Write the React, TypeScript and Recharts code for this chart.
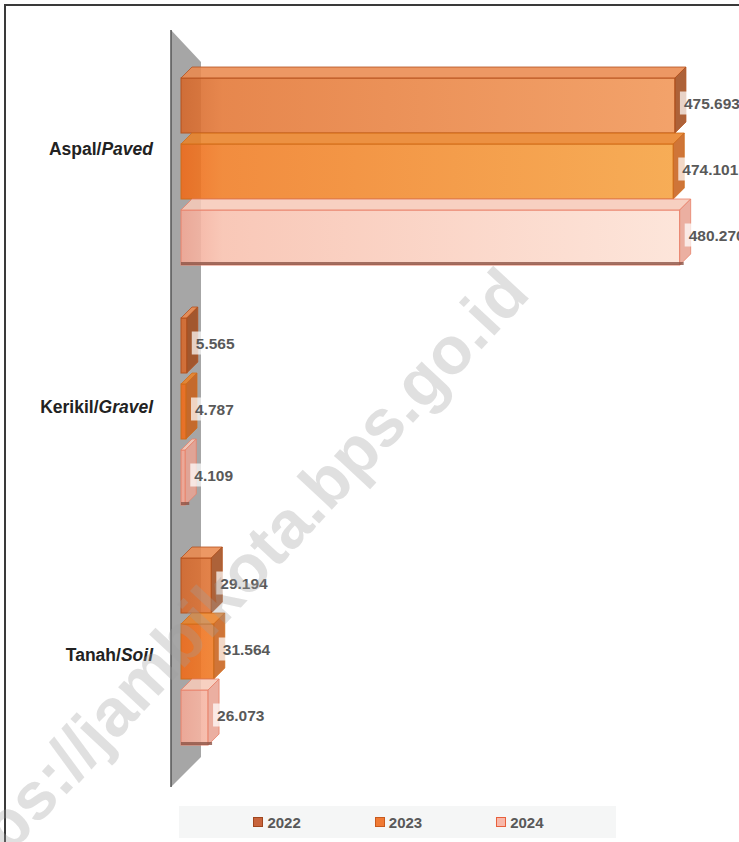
import { BarChart, Bar, XAxis, YAxis, Legend } from "recharts";

const categories = ["Aspal", "Kerikil", "Tanah"];
const categoriesEn = ["Paved", "Gravel", "Soil"];
const years = ["2022", "2023", "2024"];
const values2022 = [475.693, 5.565, 29.194];
const values2023 = [474.101, 4.787, 31.564];
const values2024 = [480.27, 4.109, 26.073];

const data = categories.map((name, i) => ({
  name,
  en: categoriesEn[i],
  y2022: values2022[i],
  y2023: values2023[i],
  y2024: values2024[i],
}));

const palettes = [
  { deep: "#D4682C", from: "#E47A3A", to: "#F29A5C", top: "#EA8A4E", side: "#A24C1E", stroke: "#B4521E", legend: "#C8643C", legendBorder: "#A0461E" },
  { deep: "#EE6A1A", from: "#F0802A", to: "#F6A646", top: "#E98228", side: "#C8621C", stroke: "#D06C1A", legend: "#F07A34", legendBorder: "#C85A1E" },
  { deep: "#F2A896", from: "#F8C2B0", to: "#FDE4D8", top: "#F6C9B8", side: "#E8A494", stroke: "#E9826A", legend: "#F8B8AA", legendBorder: "#E8603C" },
];

const labelShift = [-17, 1, 9];
const DX = 11;
const DY = 11;

const fmt = (v: number) => v.toFixed(3);
const textW = (s: string) => s.split("").reduce((w, c) => w + (c === "." ? 4.4 : 8.7), 0);

function Box3D(props: any) {
  const { x, y, width, height, idx, valueKey, payload } = props;
  const p = palettes[idx];
  const w = Math.max(width, 0);
  const x1 = x + w;
  const label = fmt(payload[valueKey]);
  const tw = textW(label);
  const bx = x1 + 5;
  const cy = y + height / 2 + 3;
  return (
    <g>
      <rect x={x} y={y + DY} width={w} height={height - DY} fill={`url(#grad${idx})`} fillOpacity={0.9} stroke={p.stroke} strokeWidth={1} />
      <polygon
        points={`${x},${y + DY} ${x + DX},${y} ${x1 + DX},${y} ${x1},${y + DY}`}
        fill={p.top}
        fillOpacity={0.88}
        stroke={p.stroke}
        strokeWidth={0.8}
      />
      <polygon
        points={`${x1},${y + DY} ${x1 + DX},${y} ${x1 + DX},${y + height - DY} ${x1},${y + height}`}
        fill={p.side}
        fillOpacity={0.88}
        stroke={p.stroke}
        strokeWidth={0.8}
      />
      {idx === 2 && <rect x={x} y={y + height - 3} width={w + 4} height={3} fill="#8C5446" opacity={0.8} />}
      <rect x={bx} y={cy - 11.5} width={tw + 8} height={23} fill="#FFFFFF" fillOpacity={0.72} />
      <text x={bx + 4} y={cy} dominantBaseline="central" fontSize={15.5} fontWeight="bold" fill="#595959" fontFamily="Liberation Sans, Arial, sans-serif">
        {label}
      </text>
    </g>
  );
}

function CategoryTick(props: any) {
  const { x, y, index, payload } = props;
  const en = categoriesEn[categories.indexOf(payload.value)];
  return (
    <text
      x={x}
      y={y + labelShift[index]}
      textAnchor="end"
      dominantBaseline="central"
      fontSize={17.5}
      fontWeight="bold"
      fill="#222222"
      fontFamily="Liberation Sans, Arial, sans-serif"
    >
      <tspan>{payload.value}/</tspan>
      <tspan fontStyle="italic">{en}</tspan>
    </text>
  );
}

function LegendBox() {
  return (
    <div
      style={{
        width: 437,
        height: 32,
        background: "#F5F6F6",
        display: "flex",
        alignItems: "center",
        justifyContent: "center",
        gap: 74,
        fontFamily: "Liberation Sans, Arial, sans-serif",
        fontWeight: "bold",
        fontSize: 15,
        color: "#595959",
        boxSizing: "border-box",
        paddingLeft: 2,
      }}
    >
      {years.map((yr, i) => (
        <div key={yr} style={{ display: "flex", alignItems: "center", gap: 4 }}>
          <span
            style={{
              display: "inline-block",
              width: 8,
              height: 8,
              background: palettes[i].legend,
              border: `1px solid ${palettes[i].legendBorder}`,
            }}
          />
          <span>{yr}</span>
        </div>
      ))}
    </div>
  );
}

export default function App() {
  return (
    <div
      style={{
        position: "fixed",
        left: 0,
        top: 0,
        width: 739,
        height: 842,
        overflow: "hidden",
        background: "#FFFFFF",
      }}
    >
      {/* frame */}
      <div
        style={{
          position: "absolute",
          left: 4,
          top: 4,
          width: 760,
          height: 860,
          border: "2px solid #3A3A3A",
          boxSizing: "border-box",
        }}
      />
      {/* 3D wall behind bars */}
      <svg width={739} height={842} style={{ position: "absolute", left: 0, top: 0 }}>
        <polygon points="171,30 201,62 201,757 171,787" fill="#A6A6A6" />
        <line x1={171} y1={30} x2={171} y2={787} stroke="#555555" strokeWidth={1.5} />
      </svg>
      <div style={{ position: "absolute", left: 0, top: 0 }}>
        <BarChart
          width={804}
          height={842}
          data={data}
          layout="vertical"
          margin={{ top: 46, right: 0, bottom: 44, left: 0 }}
          barCategoryGap={21}
          barGap={0}
        >
          <defs>
            {palettes.map((p, i) => (
              <linearGradient key={i} id={`grad${i}`} gradientUnits="userSpaceOnUse" x1={181} y1={0} x2={700} y2={0}>
                <stop offset="0%" stopColor={p.deep} />
                <stop offset="8%" stopColor={p.from} />
                <stop offset="100%" stopColor={p.to} />
              </linearGradient>
            ))}
          </defs>
          <XAxis type="number" domain={[0, 600]} hide />
          <YAxis
            type="category"
            dataKey="name"
            width={181}
            axisLine={false}
            tickLine={false}
            tickSize={0}
            tickMargin={28}
            tick={<CategoryTick />}
          />
          <Legend
            verticalAlign="bottom"
            content={() => <LegendBox />}
            wrapperStyle={{ left: 179, top: 806, bottom: "auto", width: 437, height: 32 }}
          />
          {years.map((yr, i) => (
            <Bar
              key={yr}
              dataKey={`y${yr}`}
              name={yr}
              fill={palettes[i].legend}
              isAnimationActive={false}
              shape={(p: any) => <Box3D {...p} idx={i} valueKey={`y${yr}`} />}
            />
          ))}
        </BarChart>
      </div>
      {/* watermark */}
      <div
        style={{
          position: "absolute",
          left: 224,
          top: 591,
          transform: "translate(-50%, -50%) rotate(-47deg)",
          whiteSpace: "nowrap",
          fontFamily: "Liberation Sans, Arial, sans-serif",
          fontWeight: "bold",
          fontSize: 67,
          color: "rgba(160,160,160,0.32)",
          pointerEvents: "none",
        }}
      >
        https://jambikota.bps.go.id
      </div>
    </div>
  );
}
